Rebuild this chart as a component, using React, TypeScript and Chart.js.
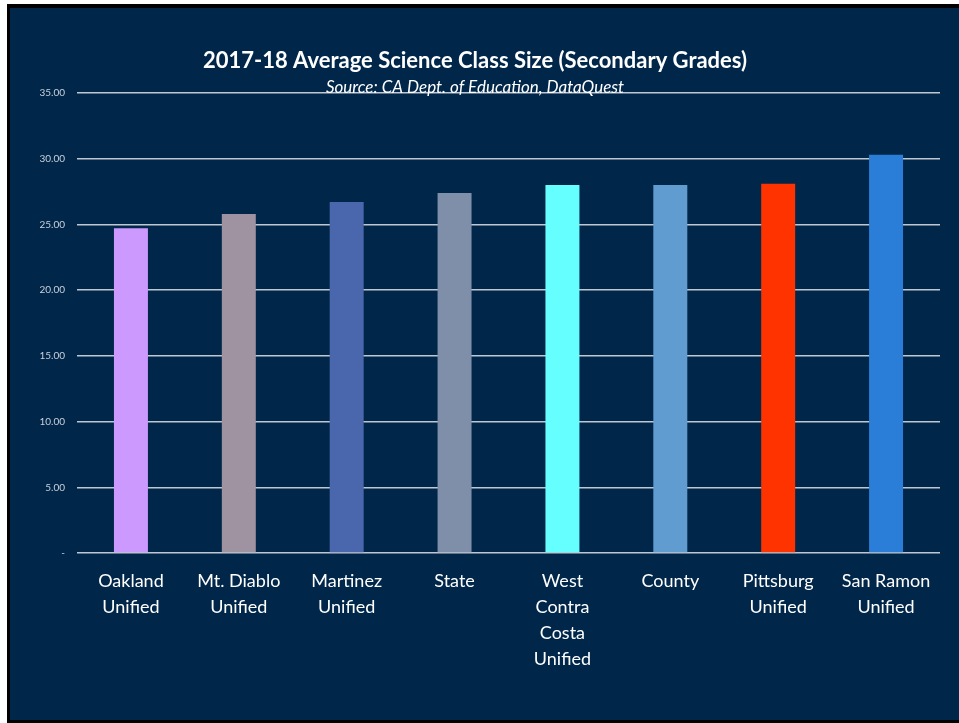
import React, { useEffect, useRef } from "react";
import { Chart, registerables } from "chart.js";

Chart.register(...registerables);

const categories: string[][] = [
  ["Oakland", "Unified"],
  ["Mt. Diablo", "Unified"],
  ["Martinez", "Unified"],
  ["State"],
  ["West", "Contra", "Costa", "Unified"],
  ["County"],
  ["Pittsburg", "Unified"],
  ["San Ramon", "Unified"],
];
const classSize: number[] = [24.7, 25.8, 26.7, 27.4, 28.0, 28.0, 28.1, 30.3];
const barColors: string[] = [
  "#CC99FF",
  "#9F93A1",
  "#4A66AD",
  "#7F8FA9",
  "#66FFFF",
  "#619CD1",
  "#FF3300",
  "#2B7ED7",
];
const titleText = "2017-18 Average Science Class Size (Secondary Grades)";
const subtitleText = "Source: CA Dept. of Education, DataQuest";

const NAVY = "#00264A";

export default function App() {
  const ref = useRef<HTMLCanvasElement | null>(null);

  useEffect(() => {
    if (!ref.current) return;
    const chart = new Chart(ref.current, {
      type: "bar",
      data: {
        labels: categories,
        datasets: [
          {
            data: classSize,
            backgroundColor: barColors,
            borderWidth: 0,
            categoryPercentage: 1,
            barPercentage: 0.315,
          },
        ],
      },
      options: {
        responsive: false,
        animation: false,
        layout: { padding: { top: 0, left: 0, right: 19, bottom: 0 } },
        plugins: {
          legend: { display: false },
          tooltip: { enabled: false },
          title: {
            display: true,
            text: titleText,
            color: "#FFFFFF",
            font: { family: "Lato", size: 22, weight: "bold", lineHeight: 1.2 },
            padding: { top: 40, bottom: 0 },
          },
          subtitle: {
            display: true,
            text: subtitleText,
            color: "#FFFFFF",
            font: { family: "Lato", size: 17, style: "italic", lineHeight: 1.2 },
            padding: { top: 3.4, bottom: -5.2 },
          },
        },
        scales: {
          x: {
            grid: { display: false, drawTicks: false },
            border: { display: false },
            ticks: {
              color: "#FFFFFF",
              font: { family: "Lato", size: 18, lineHeight: 1.44 },
              padding: 15,
              maxRotation: 0,
              autoSkip: false,
            },
            afterFit: (scale: any) => {
              scale.height = 167;
            },
          },
          y: {
            min: 0,
            max: 35,
            grid: {
              color: "#BFC7D2",
              lineWidth: 1.5,
              drawTicks: false,
            },
            border: { display: false },
            ticks: {
              stepSize: 5,
              color: "#C9D1DC",
              font: { family: "Lato", size: 10 },
              padding: 12,
              callback: (v: any) => (Number(v) === 0 ? "-" : Number(v).toFixed(2)),
            },
            afterFit: (scale: any) => {
              scale.width = 67;
            },
          },
        },
      },
    });
    return () => chart.destroy();
  }, []);

  return (
    <div
      style={{
        position: "absolute",
        left: 0,
        top: 0,
        width: 959,
        height: 723,
        background: "#FFFFFF",
        overflow: "hidden",
      }}
    >
      <div
        style={{
          position: "absolute",
          left: 7,
          top: 4,
          width: 952,
          height: 719,
          boxSizing: "border-box",
          borderTop: "4px solid #000",
          borderLeft: "3px solid #000",
          borderBottom: "3px solid #000",
          background: NAVY,
        }}
      >
        <canvas
          ref={ref}
          width={949}
          height={712}
          style={{ display: "block", width: 949, height: 712 }}
        />
      </div>
    </div>
  );
}
